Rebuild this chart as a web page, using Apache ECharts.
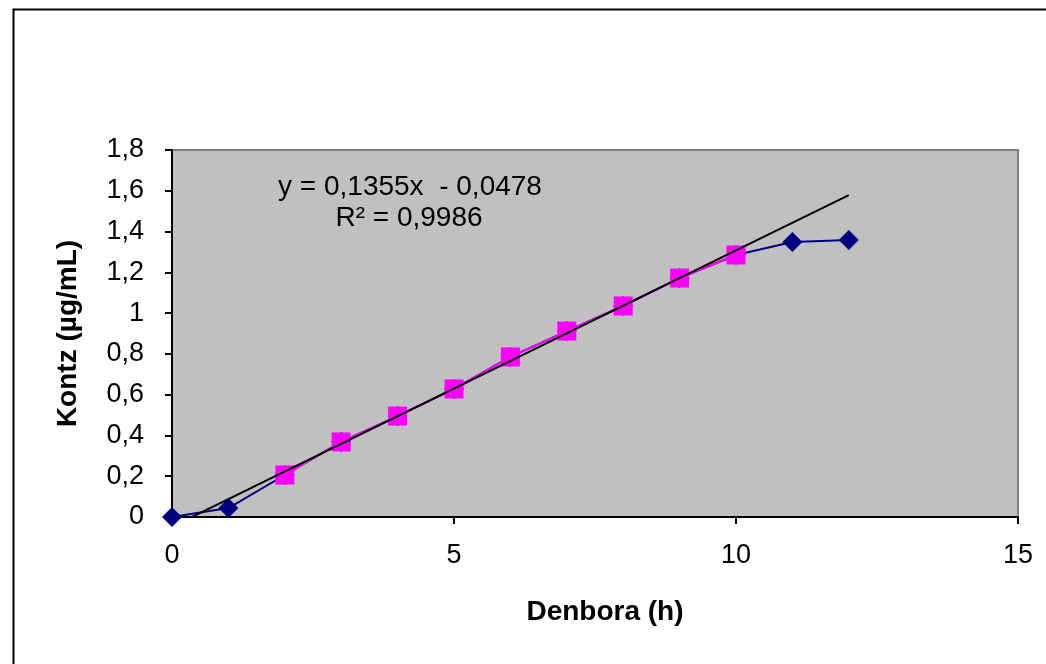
<!DOCTYPE html>
<html>
<head>
<meta charset="utf-8">
<script src="https://cdn.jsdelivr.net/npm/echarts@6/dist/echarts.min.js"></script>
<style>
html,body{margin:0;padding:0;background:#fff;}
#chart{width:1046px;height:664px;}
</style>
</head>
<body>
<div id="chart"></div>
<script>
// Data
const hoursAll = [0, 1, 2, 3, 4, 5, 6, 7, 8, 9, 10, 11, 12];
const concAll = [0, 0.044, 0.206, 0.368, 0.495, 0.628, 0.785, 0.912, 1.035, 1.172, 1.285, 1.349, 1.358];
const hoursLinear = [2, 3, 4, 5, 6, 7, 8, 9, 10];
const concLinear = [0.206, 0.368, 0.495, 0.628, 0.785, 0.912, 1.035, 1.172, 1.285];
const trendSlope = 0.1355;
const trendIntercept = -0.0478;
const trendRange = [0, 12];
const equationText = 'y = 0,1355x  - 0,0478';
const r2Text = 'R² = 0,9986';
const xTitle = 'Denbora (h)';
const yTitle = 'Kontz (µg/mL)';

const allPts = hoursAll.map((x, i) => [x, concAll[i]]);
const linPts = hoursLinear.map((x, i) => [x, concLinear[i]]);
const trendPts = trendRange.map(x => [x, trendSlope * x + trendIntercept]);

const fmt = v => String(v).replace('.', ',');
const font = '"Liberation Sans", Arial, sans-serif';

const chart = echarts.init(document.getElementById('chart'), null, {renderer: 'canvas'});
chart.setOption({
  animation: false,
  backgroundColor: '#ffffff',
  grid: {
    left: 172, top: 150, right: 28, bottom: 147,
    show: true, backgroundColor: '#C0C0C0', borderColor: '#808080', borderWidth: 2
  },
  xAxis: {
    type: 'value', min: 0, max: 15, interval: 5,
    name: xTitle, nameLocation: 'middle', nameGap: 81,
    nameTextStyle: {fontFamily: font, fontSize: 28, fontWeight: 'bold', color: '#000', padding: [0, 0, 0, 20]},
    axisLine: {show: true, onZero: false, lineStyle: {color: '#000', width: 2}},
    axisTick: {show: true, length: 7, lineStyle: {color: '#000', width: 2}},
    axisLabel: {fontFamily: font, fontSize: 27, color: '#000', margin: 25, formatter: fmt},
    splitLine: {show: false}
  },
  yAxis: {
    type: 'value', min: 0, max: 1.8, interval: 0.2,
    name: yTitle, nameLocation: 'middle', nameGap: 90,
    nameTextStyle: {fontFamily: font, fontSize: 28, fontWeight: 'bold', color: '#000'},
    axisLine: {show: true, onZero: false, lineStyle: {color: '#000', width: 2}},
    axisTick: {show: true, length: 7, lineStyle: {color: '#000', width: 2}},
    axisLabel: {fontFamily: font, fontSize: 27, color: '#000', margin: 28,
      formatter: v => fmt(Math.round(v * 10) / 10)},
    splitLine: {show: false}
  },
  series: [
    {
      type: 'line', data: allPts, symbol: 'diamond', symbolSize: 20,
      itemStyle: {color: '#000080'}, lineStyle: {color: '#000080', width: 2},
      z: 2
    },
    {
      type: 'line', data: linPts, symbol: 'rect', symbolSize: 19,
      itemStyle: {color: '#FF00FF'}, lineStyle: {color: '#FF00FF', width: 2},
      z: 3
    },
    {
      type: 'line', data: trendPts, symbol: 'none', clip: true,
      lineStyle: {color: '#000000', width: 2}, z: 4
    }
  ],
  graphic: [
    {type: 'rect', left: 11, top: 7, shape: {width: 1100, height: 700},
      style: {fill: 'none', stroke: '#000', lineWidth: 2}, z: 100, silent: true},
    {type: 'text', x: 410, y: 187, z: 100,
      style: {text: equationText, font: '28px ' + font, fill: '#000', textAlign: 'center', textVerticalAlign: 'middle'}},
    {type: 'text', x: 409, y: 218, z: 100,
      style: {text: r2Text, font: '28px ' + font, fill: '#000', textAlign: 'center', textVerticalAlign: 'middle'}}
  ]
});
</script>
</body>
</html>
